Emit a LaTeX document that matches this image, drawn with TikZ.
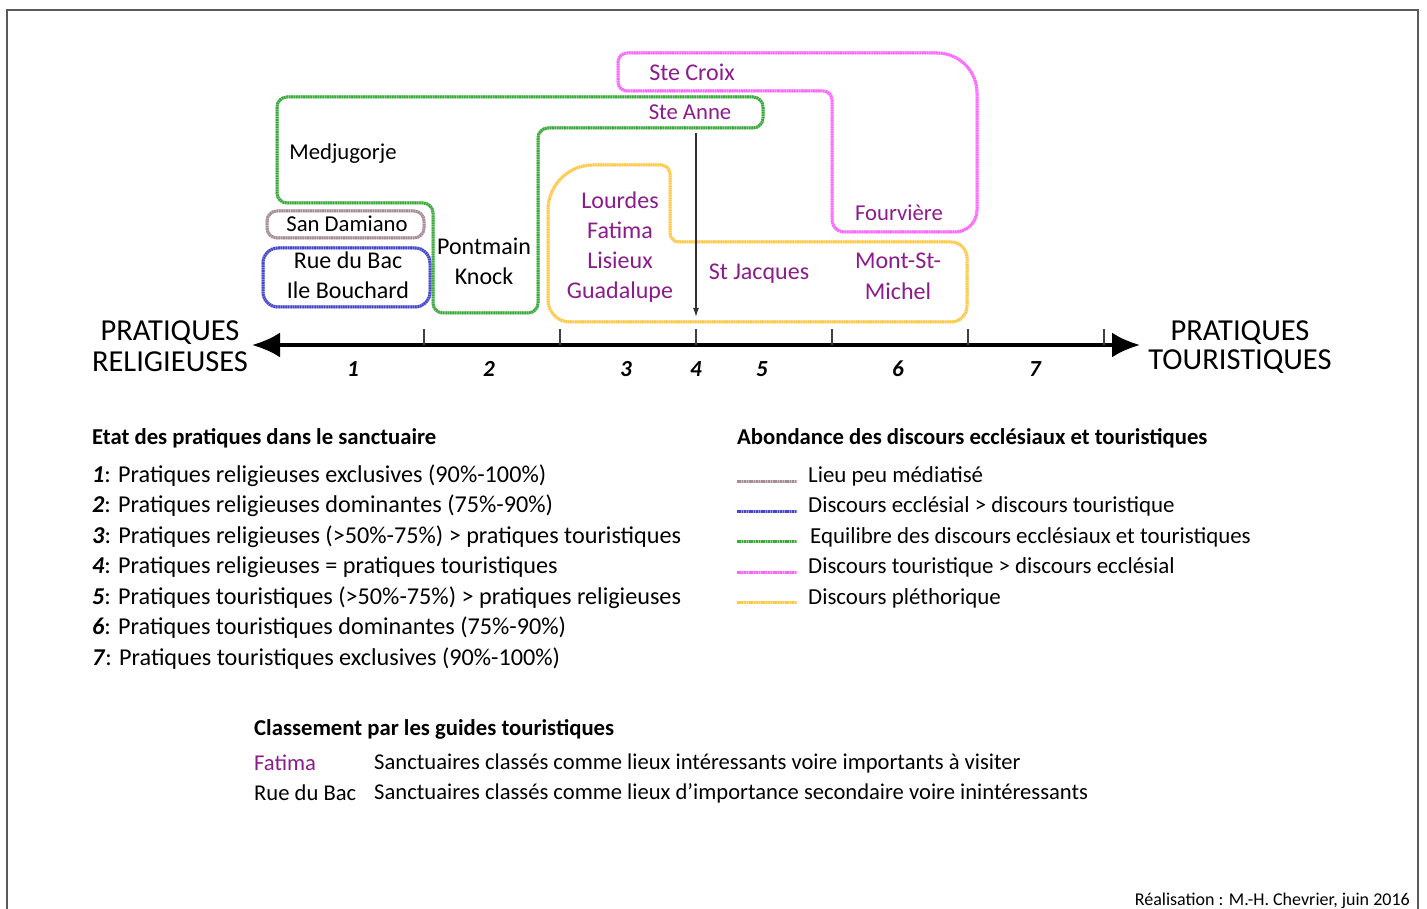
\documentclass[tikz,border=0pt]{standalone}
\usepackage{fontspec}
\setmainfont{Carlito}
\usetikzlibrary{arrows.meta}
\definecolor{purp}{RGB}{140,28,140}
\definecolor{cmag}{RGB}{255,100,255}
\definecolor{cgreen}{RGB}{60,170,60}
\definecolor{cyellow}{RGB}{255,200,70}
\definecolor{cblue}{RGB}{70,70,205}
\definecolor{cgray}{RGB}{165,140,150}
\definecolor{frame}{RGB}{90,90,90}
\begin{document}
\begin{tikzpicture}[x=1pt,y=-1pt,
  dotline/.style={draw=#1, line width=3pt, dash pattern=on 1.6pt off 0.8pt,
    preaction={draw=#1!55, solid, line width=3pt}},
  lbl/.style={inner sep=0, anchor=base, font=\fontsize{24}{28}\selectfont},
  slbl/.style={inner sep=0, anchor=base, font=\fontsize{22.7}{27}\selectfont},
  plbl/.style={lbl, text=purp},
  splbl/.style={slbl, text=purp},
  axlbl/.style={inner sep=0, anchor=base, font=\fontsize{30.5}{34}\selectfont},
  num/.style={inner sep=0, anchor=base, font=\fontsize{23}{27}\selectfont\bfseries\itshape},
  item/.style={inner sep=0, anchor=base west, font=\fontsize{24.2}{28}\selectfont},
  litem/.style={inner sep=0, anchor=base west, font=\fontsize{22.9}{27}\selectfont},
  ttl/.style={inner sep=0, anchor=base west, font=\fontsize{22.7}{27}\selectfont\bfseries},
  bitem/.style={inner sep=0, anchor=base west, font=\fontsize{22.6}{27}\selectfont},
  tick/.style={line width=1.4pt, black!75}
]
\useasboundingbox (0,0) rectangle (1427,909);
\fill[white] (0,0) rectangle (1427,909);
% frame
\draw[line width=2pt, frame] (7,909) -- (7,10) -- (1418,10) -- (1418,909);

% shapes
\path[dotline=cgray, rounded corners=10pt] (267,211) rectangle (424,238);
\path[dotline=cblue, rounded corners=15pt] (263,248) rectangle (430,307);
\path[dotline=cgreen, rounded corners=10pt]
  (277,150) -- (277,97) -- (763,97) -- (763,128) -- (538,128) -- (538,313)
  -- (433,313) -- (433,203) -- (277,203) -- cycle;
\path[dotline=cmag]
  (618,70) [rounded corners=9pt] -- (618,53) [rounded corners=40pt] -- (977,53)
  [rounded corners=22pt] -- (977,232) [rounded corners=12pt] -- (832,232)
  [rounded corners=9pt] -- (832,91) -- (618,91) -- (618,70);
\path[dotline=cyellow]
  (548,250) [rounded corners=45pt] -- (548,165) [rounded corners=9pt] -- (670,165)
  -- (670,242) [rounded corners=16pt] -- (967,242) -- (967,322)
  [rounded corners=22pt] -- (548,322) -- (548,250);

% axis
\coordinate (axL) at (252,345);
\coordinate (axR) at (1140,345);
\draw[line width=4pt, {Latex[length=28pt,width=25pt]}-{Latex[length=28pt,width=25pt]}] (axL) -- (axR);
\foreach \x in {424,560,696,832,968,1104} \draw[tick] (\x,329) -- (\x,345);

% vertical arrow
\coordinate (vtop) at (696,133);
\coordinate (vbot) at (696,317);
\draw[line width=1.3pt, black!80, -{Latex[length=9pt,width=6pt]}] (vtop) -- (vbot);

% labels
\node[plbl] (stecroix) at (692,81) {Ste Croix};
\node[splbl] (steanne) at (690,120) {Ste Anne};
\node[slbl] (medj) at (343,160) {Medjugorje};
\node[slbl] (sandam) at (347,232) {San Damiano};
\node[lbl] (ruebac) at (348,269) {Rue du Bac};
\node[lbl] (ilebou) at (348,299) {Ile Bouchard};
\node[lbl] (pontmain) at (484,255) {Pontmain};
\node[lbl] (knock) at (484,285) {Knock};
\node[plbl] (lourdes) at (620,209) {Lourdes};
\node[plbl] (fatima) at (620,239) {Fatima};
\node[plbl] (lisieux) at (620,269) {Lisieux};
\node[plbl] (guada) at (620,299) {Guadalupe};
\node[plbl] (stjacq) at (759,280) {St Jacques};
\node[splbl] (fourv) at (899,221) {Fourvière};
\node[plbl] (mont) at (898,269) {Mont-St-};
\node[plbl] (michel) at (898,300) {Michel};

\node[axlbl] (pr1) at (170,341) {PRATIQUES};
\node[axlbl] (rel) at (170,371) {RELIGIEUSES};
\node[axlbl] (pr2) at (1240,341) {PRATIQUES};
\node[axlbl] (tour) at (1240,370) {TOURISTIQUES};

\node[num] (n1) at (353,376) {1};
\node[num] (n2) at (489,376) {2};
\node[num] (n3) at (626,376) {3};
\node[num] (n4) at (696,376) {4};
\node[num] (n5) at (762,376) {5};
\node[num] (n6) at (898,376) {6};
\node[num] (n7) at (1035,376) {7};

% left legend
\node[ttl] (t1) at (92,444) {Etat des pratiques dans le sanctuaire};
\node[item] (i1) at (92,482) {\textbf{\textit{1}}: Pratiques religieuses exclusives (90\%-100\%)};
\node[item] (i2) at (92,512) {\textbf{\textit{2}}: Pratiques religieuses dominantes (75\%-90\%)};
\node[item] (i3) at (92,543) {\textbf{\textit{3}}: Pratiques religieuses (>50\%-75\%) > pratiques touristiques};
\node[item] (i4) at (92,573) {\textbf{\textit{4}}: Pratiques religieuses = pratiques touristiques};
\node[item] (i5) at (92,604) {\textbf{\textit{5}}: Pratiques touristiques (>50\%-75\%) > pratiques religieuses};
\node[item] (i6) at (92,634) {\textbf{\textit{6}}: Pratiques touristiques dominantes (75\%-90\%)};
\node[item] (i7) at (92,665) {\textbf{\textit{7}}: Pratiques touristiques exclusives (90\%-100\%)};

% right legend
\node[ttl] (t2) at (737,444) {Abondance des discours ecclésiaux et touristiques};
\path[dotline=cgray] (737,481) -- (797,481);
\node[litem] (l1) at (808,482) {Lieu peu médiatisé};
\path[dotline=cblue] (737,511) -- (797,511);
\node[litem] (l2) at (808,512) {Discours ecclésial > discours touristique};
\path[dotline=cgreen] (737,541) -- (797,541);
\node[litem] (l3) at (810,543) {Equilibre des discours ecclésiaux et touristiques};
\path[dotline=cmag] (737,572) -- (797,572);
\node[litem] (l4) at (808,573) {Discours touristique > discours ecclésial};
\path[dotline=cyellow] (737,602) -- (797,602);
\node[litem] (l5) at (808,604) {Discours pléthorique};

% bottom legend
\node[ttl] (t3) at (254,735) {Classement par les guides touristiques};
\node[bitem, text=purp] (bf) at (254,770) {Fatima};
\node[bitem] (br) at (254,800) {Rue du Bac};
\node[bitem] (bd1) at (374,769) {Sanctuaires classés comme lieux intéressants voire importants à visiter};
\node[bitem] (bd2) at (374,799) {Sanctuaires classés comme lieux d'importance secondaire voire inintéressants};

\node[inner sep=0, anchor=base east, font=\fontsize{18}{21}\selectfont] (credit) at (1410,905) {Réalisation : M.-H. Chevrier, juin 2016};
\end{tikzpicture}
\end{document}
